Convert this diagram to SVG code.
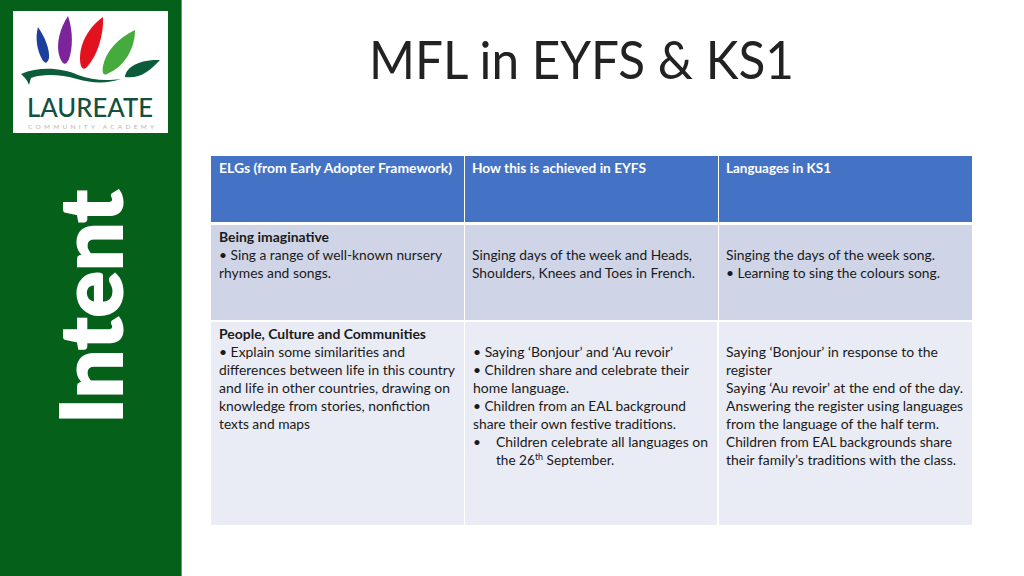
<svg xmlns="http://www.w3.org/2000/svg" width="1024" height="576" viewBox="0 0 1024 576">
<style>
text{font-family:Lato,"Open Sans","Liberation Sans",sans-serif;fill:#1a1a1a}
.c{font-size:13.6px}
.b{font-weight:700}
.h{font-weight:700;fill:#fff;font-size:13.6px}
</style>
<rect width="1024" height="576" fill="#fff"/>
<g id="sidebar">
<rect width="181" height="576" fill="#05601a"/>
<rect x="181" width="1" height="576" fill="#6f9a90"/>
<text transform="translate(122 424) rotate(-90)" font-size="86" font-weight="900" textLength="234" lengthAdjust="spacingAndGlyphs" stroke="#fff" stroke-width="2" style="fill:#fff">Intent</text>
</g>
<g id="logo">
<rect x="13" y="11" width="155" height="122" fill="#fff"/>
<path d="M38 27C45 37 50 50 49 58C47 65 44 63 42 59C37 50 35 38 38 27Z" fill="#1c3f9e"/>
<path d="M68 16C73 30 73 48 69 59C66 66 63 65 60 58C55 45 60 28 68 16Z" fill="#7b249c"/>
<path d="M103 17C104 33 98 55 87 67C83 71 80 68 80 58C80 42 90 26 103 17Z" fill="#e2131f"/>
<path d="M135 30C135 47 126 66 107 74C103 76 102 72 103 66C106 51 118 38 135 30Z" fill="#45ab3c"/>
<path d="M160 60C150 71 140 79 125 77C125 69 137 59 160 60Z" fill="#0b5c3a"/>
<path d="M21 74C40 66 62 68 78 75C92 80 104 81 121 79C106 84 92 83 77 79C62 75 45 73 31 78L29 85C27 79 24 77 21 74Z" fill="#0b5c3a"/>
<text x="27" y="117" font-size="27" font-weight="500" textLength="126" lengthAdjust="spacingAndGlyphs" style="fill:#14503f">LAUREATE</text>
<text x="28" y="129" font-size="6.5" textLength="126" style="fill:#b5b5b5">COMMUNITY ACADEMY</text>
</g>
<g id="title">
<text x="369" y="79" font-size="52" textLength="425" lengthAdjust="spacingAndGlyphs" style="fill:#222">MFL in EYFS &amp; KS1</text>
</g>
<g id="table">
<rect x="211" y="156" width="253" height="66" fill="#4472c4"/>
<rect x="465" y="156" width="253" height="66" fill="#4472c4"/>
<rect x="719" y="156" width="253" height="66" fill="#4472c4"/>
<rect x="211" y="225" width="253" height="95" fill="#cfd5e7"/>
<rect x="465" y="225" width="253" height="95" fill="#cfd5e7"/>
<rect x="719" y="225" width="253" height="95" fill="#cfd5e7"/>
<rect x="211" y="322" width="253" height="203" fill="#e9ebf5"/>
<rect x="465" y="322" width="252" height="203" fill="#e9ebf5"/>
<rect x="719" y="322" width="253" height="203" fill="#e9ebf5"/>
</g>
<g id="col1" class="c">
<text class="h" x="219" y="173" textLength="233" lengthAdjust="spacingAndGlyphs">ELGs (from Early Adopter Framework)</text>
<text class="c b" x="219" y="242" textLength="110" lengthAdjust="spacingAndGlyphs">Being imaginative</text>
<text class="c" x="219" y="260" textLength="223" lengthAdjust="spacingAndGlyphs">• Sing a range of well-known nursery</text>
<text class="c" x="219" y="278" textLength="112" lengthAdjust="spacingAndGlyphs">rhymes and songs.</text>
<text class="c b" x="219" y="339" textLength="207" lengthAdjust="spacingAndGlyphs">People, Culture and Communities</text>
<text class="c" x="219" y="357" textLength="186" lengthAdjust="spacingAndGlyphs">• Explain some similarities and</text>
<text class="c" x="219" y="375" textLength="236" lengthAdjust="spacingAndGlyphs">differences between life in this country</text>
<text class="c" x="219" y="393" textLength="231" lengthAdjust="spacingAndGlyphs">and life in other countries, drawing on</text>
<text class="c" x="219" y="411" textLength="211" lengthAdjust="spacingAndGlyphs">knowledge from stories, nonfiction</text>
<text class="c" x="219" y="429" textLength="91" lengthAdjust="spacingAndGlyphs">texts and maps</text>
</g>
<g id="col2">
<text class="h" x="472" y="173" textLength="174" lengthAdjust="spacingAndGlyphs">How this is achieved in EYFS</text>
<text class="c" x="472" y="260" textLength="220" lengthAdjust="spacingAndGlyphs">Singing days of the week and Heads,</text>
<text class="c" x="472" y="278" textLength="223" lengthAdjust="spacingAndGlyphs">Shoulders, Knees and Toes in French.</text>
<text class="c" x="473" y="357" textLength="200" lengthAdjust="spacingAndGlyphs">• Saying ‘Bonjour’ and ‘Au revoir’</text>
<text class="c" x="473" y="375" textLength="216" lengthAdjust="spacingAndGlyphs">• Children share and celebrate their</text>
<text class="c" x="473" y="393" textLength="96" lengthAdjust="spacingAndGlyphs">home language.</text>
<text class="c" x="473" y="411" textLength="213" lengthAdjust="spacingAndGlyphs">• Children from an EAL background</text>
<text class="c" x="473" y="429" textLength="203" lengthAdjust="spacingAndGlyphs">share their own festive traditions.</text>
<text class="c" x="473" y="447">•</text>
<text class="c" x="496" y="447" textLength="212" lengthAdjust="spacingAndGlyphs">Children celebrate all languages on</text>
<text class="c" x="496" y="465">the 26<tspan font-size="9" dy="-5">th</tspan><tspan dy="5"> September.</tspan></text>
</g>
<g id="col3">
<text class="h" x="726" y="173" textLength="105" lengthAdjust="spacingAndGlyphs">Languages in KS1</text>
<text class="c" x="726" y="260" textLength="209" lengthAdjust="spacingAndGlyphs">Singing the days of the week song.</text>
<text class="c" x="726" y="278" textLength="214" lengthAdjust="spacingAndGlyphs">• Learning to sing the colours song.</text>
<text class="c" x="726" y="357" textLength="212" lengthAdjust="spacingAndGlyphs">Saying ‘Bonjour’ in response to the</text>
<text class="c" x="726" y="375" textLength="46" lengthAdjust="spacingAndGlyphs">register</text>
<text class="c" x="726" y="393" textLength="237" lengthAdjust="spacingAndGlyphs">Saying ‘Au revoir’ at the end of the day.</text>
<text class="c" x="726" y="411" textLength="237" lengthAdjust="spacingAndGlyphs">Answering the register using languages</text>
<text class="c" x="726" y="429" textLength="213" lengthAdjust="spacingAndGlyphs">from the language of the half term.</text>
<text class="c" x="726" y="447" textLength="226" lengthAdjust="spacingAndGlyphs">Children from EAL backgrounds share</text>
<text class="c" x="726" y="465" textLength="230" lengthAdjust="spacingAndGlyphs">their family’s traditions with the class.</text>
</g>
</svg>
